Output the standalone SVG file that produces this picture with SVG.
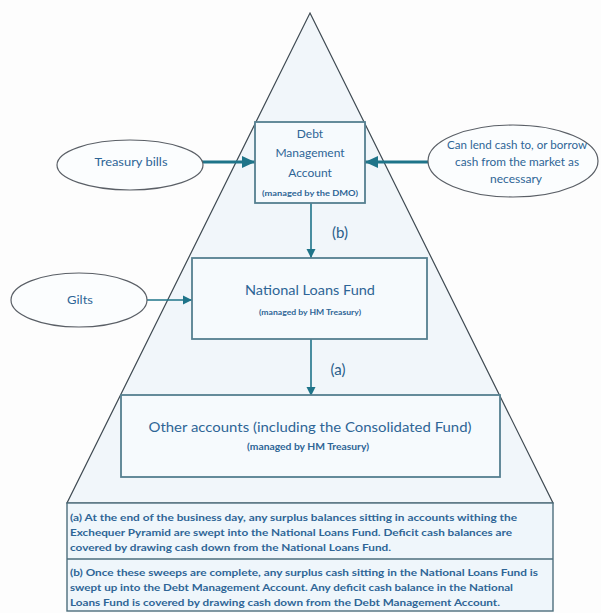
<svg xmlns="http://www.w3.org/2000/svg" width="601" height="613" viewBox="0 0 601 613">
  <defs>
    <style>
      .txt { font-family: Lato, "Liberation Sans", sans-serif; fill: #2e6596; text-anchor: middle; }
      .small { font-family: Lato, "Liberation Sans", sans-serif; fill: #2e6596; text-anchor: middle; font-weight: bold; }
      .note { font-family: Lato, "Liberation Sans", sans-serif; fill: #2e6596; font-size: 10px; font-weight: bold; }
      .box { fill: #f6fafd; stroke: #557f90; stroke-width: 1.8; }
      .ell { fill: #fbfdfe; stroke: #5a5f66; stroke-width: 1.2; }
      .thick { stroke: #1f7489; stroke-width: 3.2; fill: none; }
      .thin { stroke: #1f7489; stroke-width: 1.6; fill: none; }
      .lbl { font-family: Lato, "Liberation Sans", sans-serif; fill: #2a5f8a; font-size: 15px; text-anchor: middle; }
    </style>
    <marker id="headBig" markerUnits="userSpaceOnUse" markerWidth="14" markerHeight="14" refX="13" refY="7" orient="auto">
      <path d="M0,1 L13,7 L0,13 Z" fill="#1f7489"/>
    </marker>
    <marker id="headSmall" markerUnits="userSpaceOnUse" markerWidth="10" markerHeight="10" refX="9" refY="5" orient="auto">
      <path d="M0,0.5 L9,5 L0,9.5 Z" fill="#1f7489"/>
    </marker>
  </defs>

  <rect x="0" y="0" width="601" height="613" fill="#fdfdfd"/>

  <g id="pyramid">
    <polygon points="310,13 553,503 67,503" fill="#f1f6fa" stroke="#3f4a52" stroke-width="1.2"/>
  </g>

  <g id="connectors">
    <line class="thick" x1="202" y1="162" x2="255" y2="162" marker-end="url(#headBig)"/>
    <line class="thick" x1="428" y1="162" x2="365" y2="162" marker-end="url(#headBig)"/>
    <line class="thin" x1="147" y1="300" x2="192" y2="300" marker-end="url(#headSmall)"/>
    <line class="thin" x1="311" y1="203" x2="311" y2="258" marker-end="url(#headSmall)"/>
    <line class="thin" x1="311" y1="339" x2="311" y2="396" marker-end="url(#headSmall)"/>
    <text class="lbl" x="340" y="238">(b)</text>
    <text class="lbl" x="338" y="375">(a)</text>
  </g>

  <g id="dma">
    <rect class="box" x="255" y="122" width="110" height="81"/>
    <text class="txt" x="310" y="138" font-size="12">Debt</text>
    <text class="txt" x="310" y="157" font-size="12">Management</text>
    <text class="txt" x="310" y="177" font-size="12">Account</text>
    <text class="small" x="310" y="196" font-size="7.5" textLength="96" lengthAdjust="spacingAndGlyphs">(managed by the DMO)</text>
  </g>

  <g id="treasury-bills">
    <ellipse class="ell" cx="130" cy="165" rx="73" ry="25"/>
    <text class="txt" x="131" y="166" font-size="12" textLength="73" lengthAdjust="spacingAndGlyphs">Treasury bills</text>
  </g>

  <g id="market">
    <ellipse class="ell" cx="513" cy="161" rx="85" ry="36"/>
    <text class="txt" x="517" y="149" font-size="10.5" textLength="140" lengthAdjust="spacingAndGlyphs">Can lend cash to, or borrow</text>
    <text class="txt" x="517" y="166" font-size="10.5" textLength="124" lengthAdjust="spacingAndGlyphs">cash from the market as</text>
    <text class="txt" x="516" y="183" font-size="10.5" textLength="52" lengthAdjust="spacingAndGlyphs">necessary</text>
  </g>

  <g id="nlf">
    <rect class="box" x="192" y="258" width="235" height="81"/>
    <text class="txt" x="310" y="295" font-size="13" textLength="130" lengthAdjust="spacingAndGlyphs">National Loans Fund</text>
    <text class="small" x="310" y="315" font-size="7.5" textLength="102" lengthAdjust="spacingAndGlyphs">(managed by HM Treasury)</text>
  </g>

  <g id="gilts">
    <ellipse class="ell" cx="79" cy="300" rx="68" ry="27"/>
    <text class="txt" x="80" y="304" font-size="12" textLength="26" lengthAdjust="spacingAndGlyphs">Gilts</text>
  </g>

  <g id="other-accounts">
    <rect class="box" x="121" y="395" width="379" height="82"/>
    <text class="txt" x="310" y="432" font-size="13" textLength="323" lengthAdjust="spacingAndGlyphs">Other accounts (including the Consolidated Fund)</text>
    <text class="small" x="308" y="450" font-size="8.5" textLength="122" lengthAdjust="spacingAndGlyphs">(managed by HM Treasury)</text>
  </g>

  <g id="notes">
    <rect x="67" y="503" width="486" height="108" fill="#eff6fb" stroke="#4d6e7c" stroke-width="1.4"/>
    <line x1="67" y1="559" x2="553" y2="559" stroke="#4d6e7c" stroke-width="1.4"/>
    <text class="note" x="70" y="520.5" textLength="447" lengthAdjust="spacingAndGlyphs">(a) At the end of the business day, any surplus balances sitting in accounts withing the</text>
    <text class="note" x="70" y="535.5" textLength="442" lengthAdjust="spacingAndGlyphs">Exchequer Pyramid are swept into the National Loans Fund. Deficit cash balances are</text>
    <text class="note" x="70" y="550.5" textLength="321" lengthAdjust="spacingAndGlyphs">covered by drawing cash down from the National Loans Fund.</text>
    <text class="note" x="70" y="575.5" textLength="468" lengthAdjust="spacingAndGlyphs">(b) Once these sweeps are complete, any surplus cash sitting in the National Loans Fund is</text>
    <text class="note" x="70" y="590.5" textLength="443" lengthAdjust="spacingAndGlyphs">swept up into the Debt Management Account. Any deficit cash balance in the National</text>
    <text class="note" x="70" y="605.5" textLength="430" lengthAdjust="spacingAndGlyphs">Loans Fund is covered by drawing cash down from the Debt Management Account.</text>
  </g>
</svg>
